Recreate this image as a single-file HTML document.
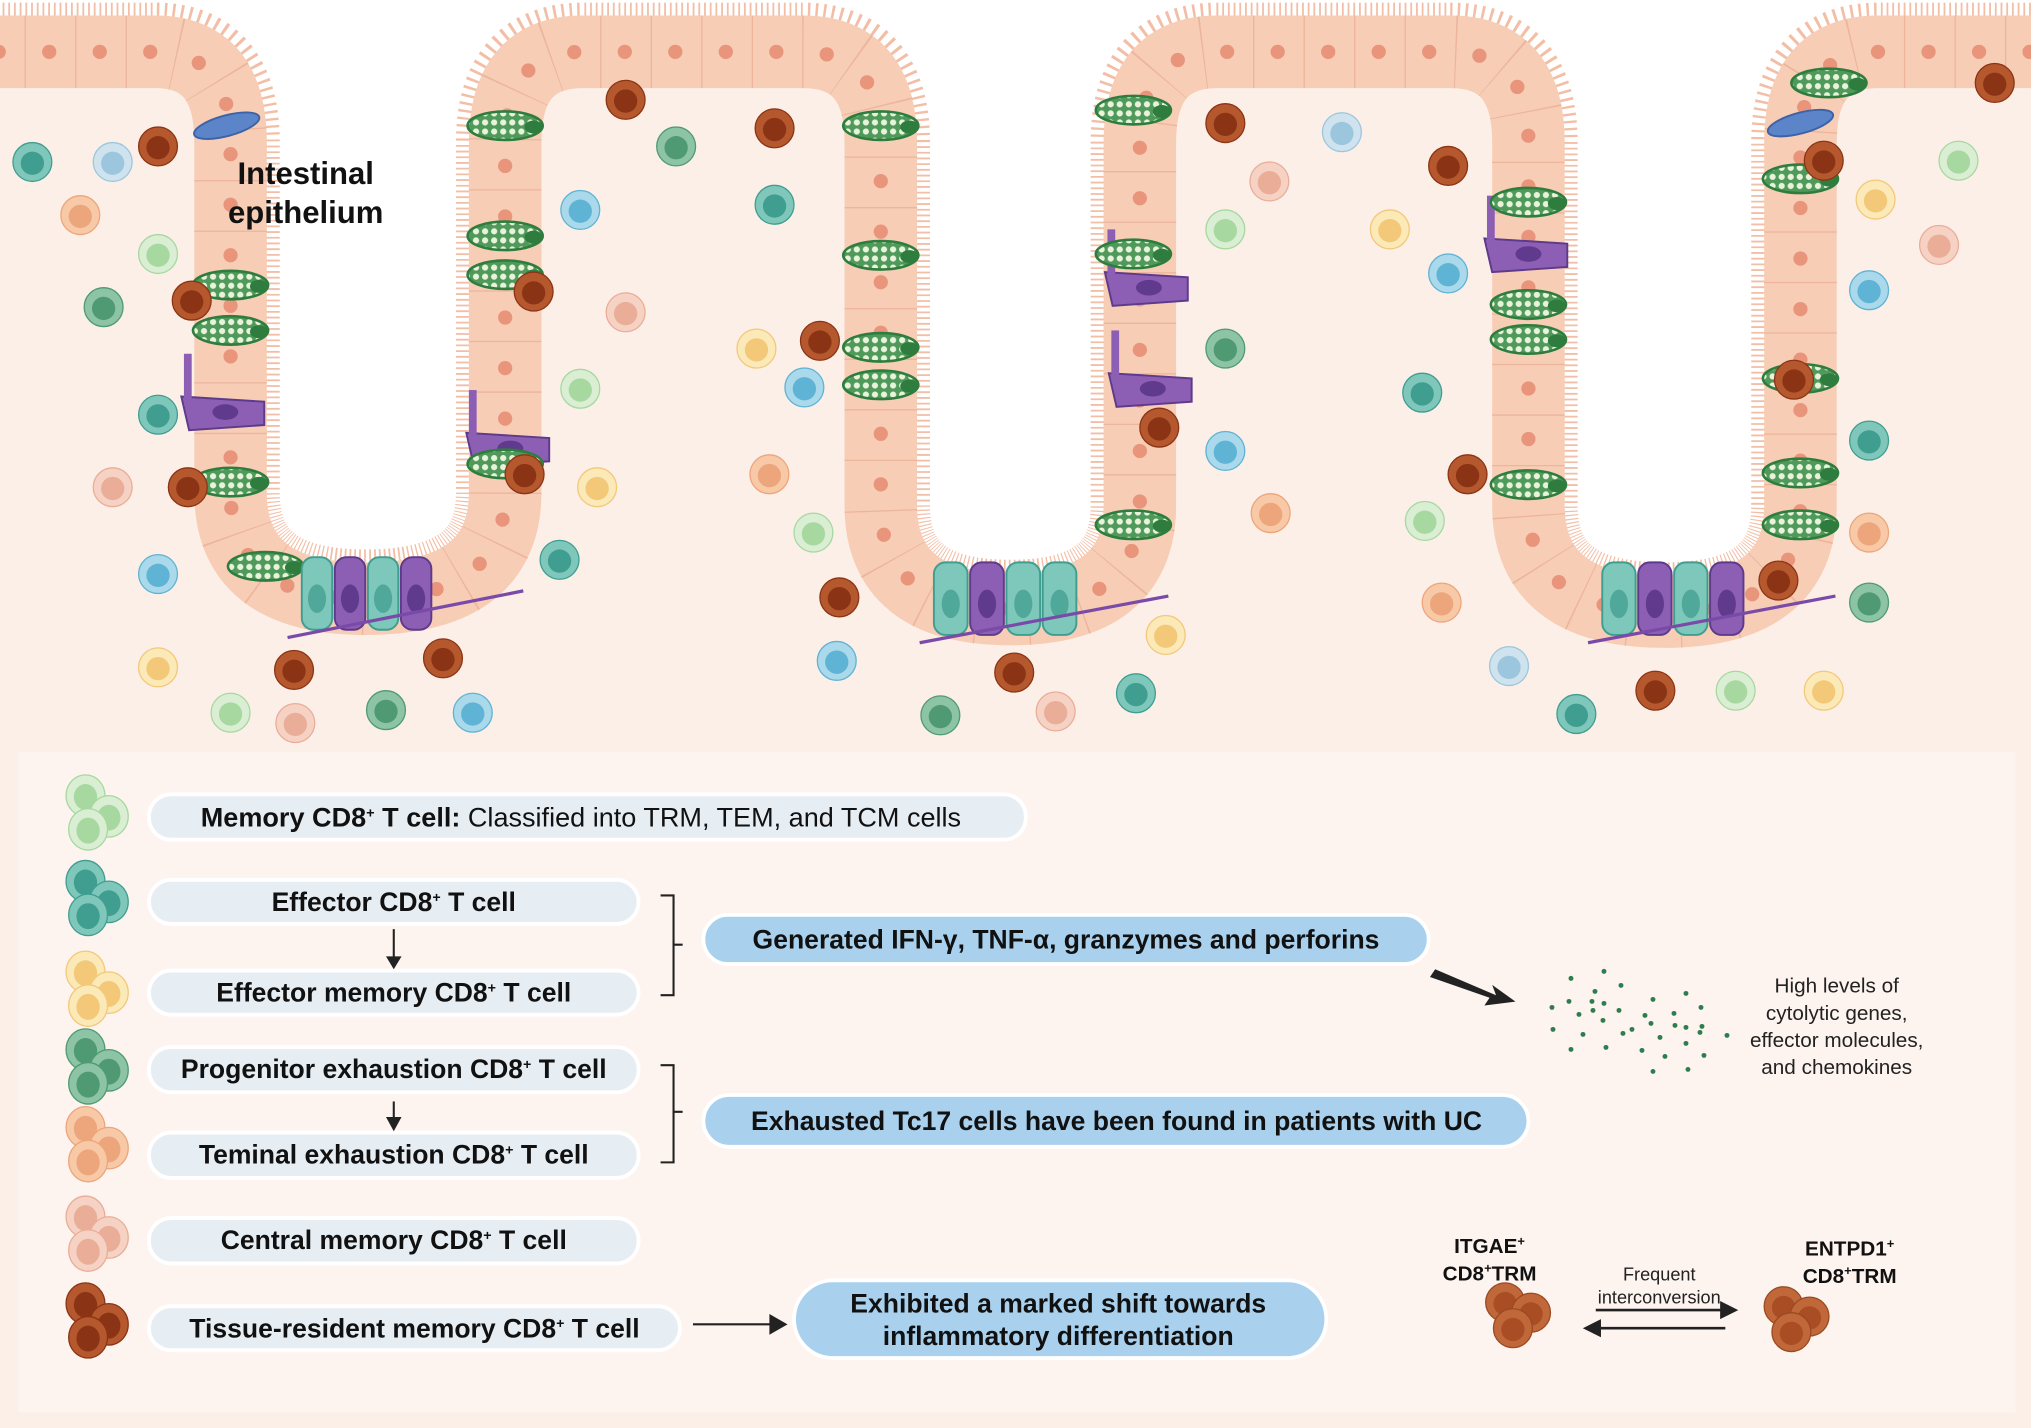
<!DOCTYPE html>
<html><head><meta charset="utf-8"><style>
html,body{margin:0;padding:0;background:#fff;}
svg{display:block;}
text{font-family:"Liberation Sans",sans-serif;}
</style></head><body>
<svg id="s" width="2031" height="1428" viewBox="0 0 1568 1102" preserveAspectRatio="none" xmlns="http://www.w3.org/2000/svg">
<defs>
<path id="P" d="M -20 40 L 120 40 Q 178 40 178 110 L 178 380 Q 178 462 282 462 Q 390 462 390 380 L 390 110 Q 390 40 450 40 L 620 40 Q 680 40 680 110 L 680 390 Q 680 470 780 470 Q 880 470 880 390 L 880 110 Q 880 40 940 40 L 1120 40 Q 1180 40 1180 110 L 1180 390 Q 1180 472 1285 472 Q 1390 472 1390 390 L 1390 110 Q 1390 40 1450 40 L 1600 40"/>
<clipPath id="lum"><path d="M -20 40 L 120 40 Q 178 40 178 110 L 178 380 Q 178 462 282 462 Q 390 462 390 380 L 390 110 Q 390 40 450 40 L 620 40 Q 680 40 680 110 L 680 390 Q 680 470 780 470 Q 880 470 880 390 L 880 110 Q 880 40 940 40 L 1120 40 Q 1180 40 1180 110 L 1180 390 Q 1180 472 1285 472 Q 1390 472 1390 390 L 1390 110 Q 1390 40 1450 40 L 1600 40 L 1600 -20 L -20 -20 Z"/></clipPath>
<pattern id="gran" width="7" height="7" patternUnits="userSpaceOnUse"><rect width="7" height="7" fill="#4f9a5a"/><circle cx="3.5" cy="3.5" r="2.4" fill="#e9f3dc"/></pattern>
</defs>
<rect width="1568" height="1102" fill="#fcefe8"/>
<path d="M -20 40 L 120 40 Q 178 40 178 110 L 178 380 Q 178 462 282 462 Q 390 462 390 380 L 390 110 Q 390 40 450 40 L 620 40 Q 680 40 680 110 L 680 390 Q 680 470 780 470 Q 880 470 880 390 L 880 110 Q 880 40 940 40 L 1120 40 Q 1180 40 1180 110 L 1180 390 Q 1180 472 1285 472 Q 1390 472 1390 390 L 1390 110 Q 1390 40 1450 40 L 1600 40 L 1600 -20 L -20 -20 Z" fill="#ffffff"/>
<rect x="0" y="0" width="1568" height="12" fill="#fff"/>
<g clip-path="url(#lum)"><use href="#P" fill="none" stroke="#f3bea6" stroke-width="76" stroke-dasharray="1.4 3"/></g>
<use href="#P" fill="none" stroke="#f7cdb5" stroke-width="56"/>
<use href="#P" fill="none" stroke="#ecb59c" stroke-width="56" stroke-dasharray="1 38"/>
<use href="#P" fill="none" stroke="#e8957b" stroke-width="11" stroke-linecap="round" stroke-dasharray="0 39" stroke-dashoffset="-19"/>
<g id="cells"></g>
<rect x="14" y="580" width="1542" height="510" fill="#fdf3ef"/>
<g id="leg"></g>
<g font-size="20.5" fill="#111">
<rect x="115" y="613" width="677" height="35" rx="17" fill="#e7eef3" stroke="#fff" stroke-width="3"/>
<text x="155" y="638" textLength="587" lengthAdjust="spacingAndGlyphs"><tspan font-weight="bold">Memory CD8<tspan font-size="11" dy="-7">+</tspan><tspan dy="7"> T cell:</tspan></tspan> Classified into TRM, TEM, and TCM cells</text>
<rect x="115" y="679" width="378" height="34" rx="17" fill="#e7eef3" stroke="#fff" stroke-width="3"/>
<text x="304" y="703" text-anchor="middle" font-weight="bold">Effector CD8<tspan font-size="11" dy="-7">+</tspan><tspan dy="7"> T cell</tspan></text>
<rect x="115" y="749" width="378" height="34" rx="17" fill="#e7eef3" stroke="#fff" stroke-width="3"/>
<text x="304" y="773" text-anchor="middle" font-weight="bold">Effector memory CD8<tspan font-size="11" dy="-7">+</tspan><tspan dy="7"> T cell</tspan></text>
<rect x="115" y="808" width="378" height="35" rx="17" fill="#e7eef3" stroke="#fff" stroke-width="3"/>
<text x="304" y="832" text-anchor="middle" font-weight="bold">Progenitor exhaustion CD8<tspan font-size="11" dy="-7">+</tspan><tspan dy="7"> T cell</tspan></text>
<rect x="115" y="874" width="378" height="35" rx="17" fill="#e7eef3" stroke="#fff" stroke-width="3"/>
<text x="304" y="898" text-anchor="middle" font-weight="bold">Teminal exhaustion CD8<tspan font-size="11" dy="-7">+</tspan><tspan dy="7"> T cell</tspan></text>
<rect x="115" y="940" width="378" height="35" rx="17" fill="#e7eef3" stroke="#fff" stroke-width="3"/>
<text x="304" y="964" text-anchor="middle" font-weight="bold">Central memory CD8<tspan font-size="11" dy="-7">+</tspan><tspan dy="7"> T cell</tspan></text>
<rect x="115" y="1008" width="410" height="34" rx="17" fill="#e7eef3" stroke="#fff" stroke-width="3"/>
<text x="320" y="1032" text-anchor="middle" font-weight="bold">Tissue-resident memory CD8<tspan font-size="11" dy="-7">+</tspan><tspan dy="7"> T cell</tspan></text>
<rect x="543" y="706" width="560" height="38" rx="19" fill="#a9d1ee" stroke="#fff" stroke-width="3"/>
<text x="823" y="732" text-anchor="middle" font-weight="bold">Generated IFN-γ, TNF-α, granzymes and perforins</text>
<rect x="543" y="845" width="637" height="40" rx="20" fill="#a9d1ee" stroke="#fff" stroke-width="3"/>
<text x="862" y="872" text-anchor="middle" font-weight="bold">Exhausted Tc17 cells have been found in patients with UC</text>
<rect x="613" y="988" width="411" height="60" rx="30" fill="#a9d1ee" stroke="#fff" stroke-width="3"/>
<text x="817" y="1013" text-anchor="middle" font-weight="bold">Exhibited a marked shift towards</text>
<text x="817" y="1038" text-anchor="middle" font-weight="bold">inflammatory differentiation</text>
</g>
<g stroke="#222" stroke-width="1.6" fill="none">
<path d="M304 717 V740"/><path d="M304 850 V865"/>
<path d="M510 691 H520 V768 H510 M520 729 H527"/>
<path d="M510 822 H520 V897 H510 M520 858 H527"/>
<path d="M535 1022 H596"/>
<path d="M1232 1011 H1330" stroke-width="2"/><path d="M1236 1025 H1332" stroke-width="2"/>
</g>
<g fill="#222">
<path d="M298 738 H310 L304 748 Z"/><path d="M298 862 H310 L304 873 Z"/>
<path d="M594 1014 L608 1022 L594 1030 Z"/>
<path d="M1328 1004 L1342 1011 L1328 1018 Z"/><path d="M1236 1018 L1222 1025 L1236 1032 Z"/>
<path d="M1108 748 L1155 768 L1152 760 L1170 773 L1146 776 L1150 770 L1104 754 Z"/>
</g>
<g font-size="16" fill="#222" text-anchor="middle">
<text x="1418" y="766">High levels of</text><text x="1418" y="787">cytolytic genes,</text>
<text x="1418" y="808">effector molecules,</text><text x="1418" y="829">and chemokines</text>
</g>
<g font-size="14" fill="#222" text-anchor="middle"><text x="1281" y="988">Frequent</text><text x="1281" y="1006">interconversion</text></g>
<g font-size="16" font-weight="bold" fill="#111" text-anchor="middle">
<text x="1150" y="967">ITGAE<tspan font-size="10" dy="-6">+</tspan></text>
<text x="1150" y="988">CD8<tspan font-size="10" dy="-6">+</tspan><tspan dy="6">TRM</tspan></text>
<text x="1428" y="969">ENTPD1<tspan font-size="10" dy="-6">+</tspan></text>
<text x="1428" y="990">CD8<tspan font-size="10" dy="-6">+</tspan><tspan dy="6">TRM</tspan></text>
</g>
<text x="236" y="142" font-size="24" font-weight="bold" text-anchor="middle" fill="#111">Intestinal</text>
<text x="236" y="172" font-size="24" font-weight="bold" text-anchor="middle" fill="#111">epithelium</text>
<g id="dots" fill="#2e7d4f"></g>
</svg>
<script>
var NS="http://www.w3.org/2000/svg";
function el(p,t,a){var e=document.createElementNS(NS,t);for(var k in a)e.setAttribute(k,a[k]);p.appendChild(e);return e;}
var C={teal:["#7fc7ba","#3f9e90"],lb:["#cfe3ee","#9cc6dd"],sal:["#f8c9a6","#eda57c"],lg:["#d9eed3","#a7d8a0"],gr:["#8cc4a5","#4f9a73"],br:["#b5582e","#8b3415"],pk:["#f6d2c4","#e9ad98"],ye:["#fbeab8","#f3c878"],bl:["#a9d9ea","#5fb3d4"]};
var cells=document.getElementById("cells");
var g=[[178,220],[178,255],[178,372],[390,97],[390,182],[390,212],[390,358],[205,437],[680,97],[680,197],[680,268],[680,297],[875,85],[875,196],[875,405],[1180,156],[1180,235],[1180,262],[1180,374],[1412,64],[1390,138],[1390,292],[1390,365],[1390,405]];
var pur=[[172,318],[392,346],[885,222],[888,300],[1178,196]];
pur.forEach(function(p){el(cells,"path",{d:"M"+(p[0]-32)+" "+(p[1]-12)+" L"+(p[0]+32)+" "+(p[1]-8)+" L"+(p[0]+32)+" "+(p[1]+10)+" L"+(p[0]-26)+" "+(p[1]+14)+" Z",fill:"#8c5fb4",stroke:"#5e3a8a","stroke-width":1.5});
el(cells,"rect",{x:p[0]-30,y:p[1]-45,width:6,height:40,fill:"#8c5fb4"});
el(cells,"ellipse",{cx:p[0]+2,cy:p[1],rx:10,ry:6,fill:"#5f3a8d"});});
g.forEach(function(p){el(cells,"ellipse",{cx:p[0],cy:p[1],rx:29,ry:11,fill:"url(#gran)",stroke:"#2f7d3e","stroke-width":2});
el(cells,"ellipse",{cx:p[0]+22,cy:p[1]+1,rx:7,ry:5,fill:"#2f7d3e"});});
[[232,334,444],[720,832,448],[1236,1347,448]].forEach(function(b){var w=(b[1]-b[0])/4;for(var i=0;i<4;i++){var x=b[0]+i*w;var pu=(i==1||(i==3&&b[0]!=720))?1:0;
el(cells,"rect",{x:x+1,y:b[2]-14,width:w-2,height:56,rx:9,fill:pu?"#8c5fb4":"#7ec7bb",stroke:pu?"#5e3a8a":"#3f9e90","stroke-width":1.5});
el(cells,"ellipse",{cx:x+w/2,cy:b[2]+18,rx:7,ry:11,fill:pu?"#5f3a8d":"#4fa89a"});}
el(cells,"path",{d:"M"+(b[0]-10)+" "+(b[2]+48)+" L"+(b[1]+70)+" "+(b[2]+12),stroke:"#7a4aa8","stroke-width":2.5});});
[[175,97],[1390,95]].forEach(function(p){el(cells,"ellipse",{cx:p[0],cy:p[1],rx:26,ry:8,fill:"#5b84c9",stroke:"#3d62a8","stroke-width":1.5,transform:"rotate(-15 "+p[0]+" "+p[1]+")"});});
var L=[[25,125,"teal"],[87,125,"lb"],[122,113,"br"],[62,166,"sal"],[122,196,"lg"],[80,237,"gr"],[148,232,"br"],[122,320,"teal"],[87,376,"pk"],[145,376,"br"],[122,443,"bl"],[122,515,"ye"],[178,550,"lg"],[228,558,"pk"],[227,517,"br"],[298,548,"gr"],[365,550,"bl"],[342,508,"br"],[483,77,"br"],[522,113,"gr"],[448,162,"bl"],[412,225,"br"],[483,241,"pk"],[448,300,"lg"],[405,366,"br"],[461,376,"ye"],[432,432,"teal"],[598,99,"br"],[598,158,"teal"],[584,269,"ye"],[621,299,"bl"],[633,263,"br"],[594,366,"sal"],[628,411,"lg"],[648,461,"br"],[646,510,"bl"],[726,552,"gr"],[783,519,"br"],[815,549,"pk"],[877,535,"teal"],[900,490,"ye"],[946,95,"br"],[980,140,"pk"],[946,177,"lg"],[946,269,"gr"],[895,330,"br"],[946,348,"bl"],[981,396,"sal"],[1036,102,"lb"],[1073,177,"ye"],[1118,128,"br"],[1118,211,"bl"],[1098,303,"teal"],[1133,366,"br"],[1100,402,"lg"],[1113,465,"sal"],[1165,514,"lb"],[1217,551,"teal"],[1278,533,"br"],[1340,533,"lg"],[1408,533,"ye"],[1373,448,"br"],[1443,465,"gr"],[1443,411,"sal"],[1443,340,"teal"],[1385,293,"br"],[1443,224,"bl"],[1497,189,"pk"],[1448,154,"ye"],[1512,124,"lg"],[1408,124,"br"],[1540,64,"br"]];
L.forEach(function(c){var k=C[c[2]];el(cells,"circle",{cx:c[0],cy:c[1],r:15,fill:k[0],stroke:k[1],"stroke-width":1});el(cells,"circle",{cx:c[0],cy:c[1]+1,r:9,fill:k[1]});});
var leg=document.getElementById("leg");
[[630,"lg"],[696,"teal"],[766,"ye"],[826,"gr"],[886,"sal"],[955,"pk"],[1022,"br"]].forEach(function(r){var k=C[r[1]];[[66,r[0]-16],[84,r[0]],[68,r[0]+10]].forEach(function(p){el(leg,"ellipse",{cx:p[0],cy:p[1],rx:15,ry:16,fill:k[0],stroke:k[1],"stroke-width":1});el(leg,"ellipse",{cx:p[0],cy:p[1]+1,rx:9,ry:10,fill:k[1]});});});
[[1170,1015],[1385,1018]].forEach(function(c){[[c[0]-8,c[1]-10],[c[0]+12,c[1]-2],[c[0]-2,c[1]+10]].forEach(function(p){el(leg,"circle",{cx:p[0],cy:p[1],r:15,fill:"#c0683a",stroke:"#9a4a22"});el(leg,"circle",{cx:p[0],cy:p[1]+1,r:9,fill:"#a84d24"});});});
var d=document.getElementById("dots");
[[1571,978],[1604,971],[1621,985],[1595,991],[1569,1001],[1592,1001],[1604,1003],[1579,1014],[1593,1010],[1603,1020],[1619,1010],[1552,1007],[1653,999],[1645,1015],[1686,993],[1651,1023],[1674,1013],[1660,1037],[1675,1025],[1686,1027],[1701,1007],[1553,1029],[1583,1034],[1623,1033],[1632,1029],[1700,1032],[1571,1049],[1606,1047],[1642,1050],[1665,1056],[1704,1055],[1653,1071],[1688,1069],[1727,1035],[1702,1026],[1686,1043]].forEach(function(p){el(d,"circle",{cx:p[0]/1.2953,cy:p[1]/1.2953,r:1.9});});
</script>
</body></html>
